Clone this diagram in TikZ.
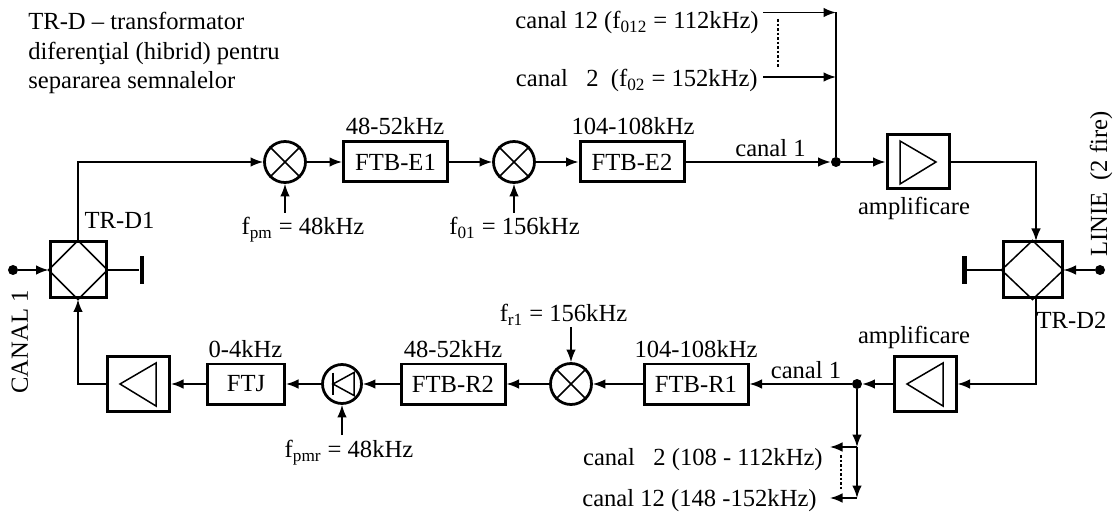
\documentclass[tikz,border=0pt]{standalone}
\usepackage{fontspec}
\setmainfont{Liberation Serif}
\usetikzlibrary{arrows.meta}
\newcommand{\fsub}[1]{f\textsubscript{#1}}
\tikzset{
    wire/.style={line width=0.03cm},
    filterbox/.style={draw, line width=0.06cm, minimum width=2.08cm, minimum height=0.80cm, inner sep=0pt},
    ampbox/.style={draw, line width=0.06cm, minimum width=1.24cm, minimum height=1.08cm, inner sep=0pt},
    hybridbox/.style={draw, line width=0.06cm, minimum width=1.12cm, minimum height=1.12cm, inner sep=0pt},
    mixer/.style={draw, circle, line width=0.055cm, minimum size=0.82cm, inner sep=0pt},
    junction/.style={circle, fill=black, minimum size=0.2cm, inner sep=0pt},
    stopbar/.style={fill=black, minimum width=0.09cm, minimum height=0.56cm, inner sep=0pt},
    lbl/.style={anchor=base, inner sep=0pt}
}
\begin{document}
\begin{tikzpicture}[>={Latex[length=0.25cm,width=0.19cm]}, font=\fontsize{14}{16}\selectfont]
        \useasboundingbox (0,0) rectangle (22.3,10.24);

        % Emisie
        \node[mixer] (mixe1) at (5.70,7.00) {};
        \node[filterbox] (ftbe1) at (7.91,7.00) {FTB-E1};
        \node[mixer] (mixe2) at (10.28,7.00) {};
        \node[filterbox] (ftbe2) at (12.64,7.00) {FTB-E2};
        \node[junction] (sumdot) at (16.72,7.00) {};
        \node[ampbox] (ampe) at (18.36,7.00) {};

        % Receptie
        \node[ampbox] (ampr2) at (18.50,2.56) {};
        \node[junction] (splitdot) at (17.14,2.56) {};
        \node[filterbox] (ftbr1) at (13.92,2.56) {FTB-R1};
        \node[mixer] (mixr) at (11.42,2.56) {};
        \node[filterbox] (ftbr2) at (9.06,2.56) {FTB-R2};
        \node[mixer, minimum size=0.78cm] (demod) at (6.84,2.56) {};
        \node[filterbox, minimum width=1.54cm] (ftj) at (4.92,2.56) {FTJ};
        \node[ampbox] (ampr1) at (2.77,2.56) {};

        % Transformatoare diferentiale
        \node[hybridbox] (trd1) at (1.56,4.84) {};
        \node[hybridbox, minimum width=1.18cm] (trd2) at (20.65,4.84) {};
        \node[junction] (canaldot) at (0.26,4.84) {};
        \node[junction] (liniedot) at (22.00,4.84) {};
        \node[stopbar] (bar1) at (2.84,4.84) {};
        \node[stopbar] (bar2) at (19.29,4.84) {};
        \foreach \t in {trd1,trd2} {
            \draw[wire] (\t.north) -- (\t.east) -- (\t.south) -- (\t.west) -- cycle;
        }

        % Simboluri in blocuri
        \foreach \m in {mixe1,mixe2,mixr} {
            \draw[wire] (\m.45) -- (\m.225);
            \draw[wire] (\m.135) -- (\m.315);
        }
        \draw[wire] (18.00,7.42) -- (18.72,7.00) -- (18.00,6.56) -- cycle;
        \draw[wire] (18.86,2.98) -- (18.14,2.56) -- (18.86,2.12) -- cycle;
        \draw[wire] (3.12,2.98) -- (2.40,2.56) -- (3.12,2.12) -- cycle;
        \draw[wire] (7.08,2.79) -- (6.66,2.56) -- (7.08,2.33) -- cycle;
        \draw[wire] (6.66,2.79) -- (6.66,2.33);

        % Puncte libere
        \coordinate (fpmtail) at (5.70,5.98);
        \coordinate (foonetail) at (10.28,5.98);
        \coordinate (froneatail) at (11.42,3.70);
        \coordinate (fpmrtail) at (6.84,1.54);
        \coordinate (bustop) at (16.72,9.99);
        \coordinate (bustwo) at (16.72,8.70);
        \coordinate (cantwelve) at (15.26,9.99);
        \coordinate (cantwo) at (15.26,8.70);
        \coordinate (trdtwoin) at (20.72,5.42);
        \coordinate (trdtwoout) at (20.72,4.27);
        \coordinate (tapone) at (17.14,1.30);
        \coordinate (taptwo) at (17.14,0.28);
        \coordinate (outtwo) at (16.60,1.30);
        \coordinate (outtwelve) at (16.60,0.28);
        \coordinate (dotsa) at (15.56,9.86);
        \coordinate (dotsb) at (15.56,8.90);
        \coordinate (dotsc) at (16.82,1.14);
        \coordinate (dotsd) at (16.82,0.44);

        % Legaturi emisie
        \draw[wire, ->] (trd1.north) |- (mixe1.west);
        \draw[wire, ->] (mixe1) -- (ftbe1);
        \draw[wire, ->] (ftbe1) -- (mixe2);
        \draw[wire, ->] (mixe2) -- (ftbe2);
        \draw[wire, ->] (ftbe2) -- (sumdot);
        \draw[wire, ->] (sumdot) -- (ampe);
        \draw[wire, ->] (ampe.east) -| (trdtwoin);
        \draw[wire] (bustop) -- (sumdot);
        \draw[wire, ->] (cantwelve) -- (bustop);
        \draw[wire, ->] (cantwo) -- (bustwo);
        \draw[line width=0.055cm, densely dotted] (dotsa) -- (dotsb);
        \draw[wire, ->] (fpmtail) -- (mixe1.south);
        \draw[wire, ->] (foonetail) -- (mixe2.south);

        % Legaturi receptie
        \draw[wire, ->] (trdtwoout) |- (ampr2.east);
        \draw[wire, ->] (ampr2) -- (splitdot);
        \draw[wire, ->] (splitdot) -- (ftbr1);
        \draw[wire, ->] (ftbr1) -- (mixr);
        \draw[wire, ->] (mixr) -- (ftbr2);
        \draw[wire, ->] (ftbr2) -- (demod);
        \draw[wire, ->] (demod) -- (ftj);
        \draw[wire, ->] (ftj) -- (ampr1);
        \draw[wire, ->] (ampr1.west) -| (trd1.south);
        \draw[wire, ->] (froneatail) -- (mixr.north);
        \draw[wire, ->] (fpmrtail) -- (demod.south);
        \draw[wire, ->] (splitdot) -- (tapone);
        \draw[wire, ->] (tapone) -- (taptwo);
        \draw[wire, ->] (tapone) -- (outtwo);
        \draw[wire, ->] (taptwo) -- (outtwelve);
        \draw[line width=0.055cm, densely dotted] (dotsc) -- (dotsd);

        % Capete de linie
        \draw[wire, ->] (canaldot) -- (trd1.west);
        \draw[wire, ->] (liniedot) -- (trd2.east);
        \draw[wire] (trd1.east) -- (bar1);
        \draw[wire] (trd2.west) -- (bar2);

        % Etichete
        \node[anchor=north west, align=left, inner sep=0pt, font=\fontsize{14}{16.8}\selectfont] (note) at (0.56,10.00)
            {TR-D – transformator\\diferenţial (hibrid) pentru\\separarea semnalelor};
        \node[lbl, anchor=base east] (lblcanxii) at (15.18,9.66) {canal 12 (\fsub{012} = 112kHz)};
        \node[lbl, anchor=base east] (lblcanii) at (15.16,8.50) {canal\ \ \ 2\ \ (\fsub{02} = 152kHz)};
        \node[lbl] (lblbe1) at (7.90,7.54) {48-52kHz};
        \node[lbl] (lblbe2) at (12.66,7.54) {104-108kHz};
        \node[lbl] (lblcane) at (15.41,7.10) {canal 1};
        \node[lbl] (lblampe) at (18.28,5.94) {amplificare};
        \node[lbl] (lblfpm) at (6.06,5.54) {\fsub{pm} = 48kHz};
        \node[lbl] (lblfo) at (10.29,5.54) {\fsub{01} = 156kHz};
        \node[lbl] (lbltrd1) at (2.39,5.66) {TR-D1};
        \node[lbl] (lbltrd2) at (21.43,3.68) {TR-D2};
        \node[lbl] (lblampr) at (18.28,3.38) {amplificare};
        \node[lbl] (lblcanr) at (16.12,2.68) {canal 1};
        \node[lbl] (lblbr1) at (13.92,3.10) {104-108kHz};
        \node[lbl] (lblfr) at (11.27,3.80) {\fsub{r1} = 156kHz};
        \node[lbl] (lblbr2) at (9.06,3.10) {48-52kHz};
        \node[lbl] (lblftj) at (4.91,3.10) {0-4kHz};
        \node[lbl] (lblfpmr) at (6.98,1.08) {\fsub{pmr} = 48kHz};
        \node[lbl, anchor=base east] (lbloutii) at (16.46,0.94) {canal\ \ \ 2 (108 - 112kHz)};
        \node[lbl, anchor=base east] (lbloutxii) at (16.34,0.12) {canal 12 (148 -152kHz)};
        \node[lbl, rotate=90] (lblcanal) at (0.56,3.40) {CANAL 1};
        \node[lbl, rotate=90] (lbllinie) at (22.14,6.56) {LINIE\ \ (2 fire)};
    \end{tikzpicture}
\end{document}
